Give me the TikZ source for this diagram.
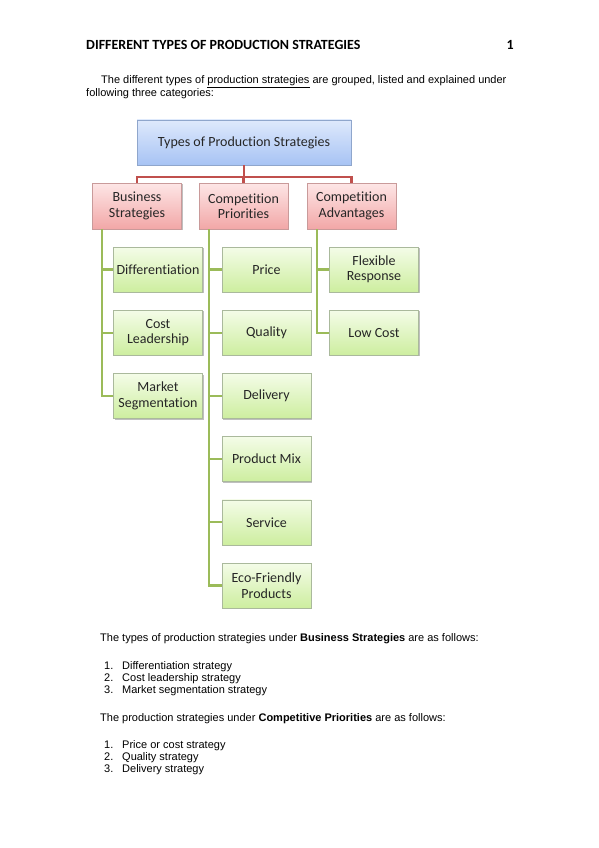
\documentclass[tikz,border=0pt]{standalone}
\usepackage{fontspec}
\setmainfont{Liberation Sans}
\newfontfamily\boxfont[Ligatures=NoCommon]{Carlito}
\usepackage{tikz}
\usetikzlibrary{calc, positioning, shadows}

\definecolor{blueedge}{HTML}{8FA6CC}
\definecolor{bluetop}{HTML}{DEE9FC}
\definecolor{bluebot}{HTML}{A7C3F4}
\definecolor{rededge}{HTML}{C99A9A}
\definecolor{redtop}{HTML}{FDE6E6}
\definecolor{redbot}{HTML}{F2A7A7}
\definecolor{greenedge}{HTML}{AAB99C}
\definecolor{greentop}{HTML}{F4FCE8}
\definecolor{greenbot}{HTML}{CDEE9F}
\definecolor{redlink}{HTML}{C0504D}
\definecolor{greenlink}{HTML}{9BBB59}

\tikzset{
  box/.style={line width=0.6pt, minimum height=45pt, inner xsep=1pt, align=center,
    text=black!85, font=\boxfont\fontsize{14}{15.5}\selectfont,
    drop shadow={shadow xshift=1.2pt, shadow yshift=-1.2pt, opacity=0.25, fill=black}},
  topbox/.style={box, draw=blueedge, top color=bluetop, bottom color=bluebot, minimum width=214pt},
  catbox/.style={box, draw=rededge, top color=redtop, bottom color=redbot, minimum width=89pt, minimum height=46pt},
  leafbox/.style={box, draw=greenedge, top color=greentop, bottom color=greenbot, minimum width=89pt},
  redline/.style={redlink, line width=2.2pt},
  greenline/.style={greenlink, line width=2.2pt},
  body/.style={anchor=base west, inner sep=0pt, font=\fontsize{11}{13}\selectfont},
  headtext/.style={inner sep=0pt, font=\boxfont\bfseries\fontsize{14}{16}\selectfont}
}

\begin{document}
\begin{tikzpicture}[x=1pt, y=-1pt]
    \useasboundingbox (0,0) rectangle (599,848);

    % Page heading
    \node[headtext, anchor=base west] (heading) at (86,49.5) {DIFFERENT TYPES OF PRODUCTION STRATEGIES};
    \node[headtext, anchor=base east] (pageno) at (514,49.5) {1};

    % Introduction
    \node[body] (intro1) at (101,84) {The different types of \underline{production strategies} are grouped, listed and explained under};
    \node[body] (intro2) at (86,96.5) {following three categories:};

    % Chart: top level
    \node[topbox] (types) at (244,142.5) {Types of Production Strategies};

    % Chart: categories
    \node[catbox] (business) at (137,206) {Business\\Strategies};
    \node[catbox] (priorities) at (243.5,206) {Competition\\Priorities};
    \node[catbox] (advantages) at (351.5,206) {Competition\\Advantages};

    \coordinate (hub) at (244,177);
    \draw[redline] (types.south) -- (hub) -| (business.north);
    \draw[redline] (hub) -| (priorities.north);
    \draw[redline] (hub) -| (advantages.north);

    % Chart: strategies under each category
    \node[leafbox] (diff) at (158,269.5) {Differentiation};
    \node[leafbox] (cost) at (158,332.7) {Cost\\Leadership};
    \node[leafbox] (market) at (158,395.9) {Market\\Segmentation};

    \node[leafbox] (price) at (266.5,269.5) {Price};
    \node[leafbox] (quality) at (266.5,332.7) {Quality};
    \node[leafbox] (delivery) at (266.5,395.9) {Delivery};
    \node[leafbox] (mix) at (266.5,459.1) {Product Mix};
    \node[leafbox] (service) at (266.5,522.3) {Service};
    \node[leafbox] (eco) at (266.5,585.5) {Eco-Friendly\\Products};

    \node[leafbox] (flexible) at (374,269.5) {Flexible\\Response};
    \node[leafbox] (lowcost) at (374,332.7) {Low Cost};

    \coordinate (btrunk) at ($(business.south west)+(10,0)$);
    \coordinate (ptrunk) at ($(priorities.south west)+(10,0)$);
    \coordinate (atrunk) at ($(advantages.south west)+(10,0)$);
    \foreach \leaf in {diff, cost, market}
        \draw[greenline] (btrunk) |- (\leaf.west);
    \foreach \leaf in {price, quality, delivery, mix, service, eco}
        \draw[greenline] (ptrunk) |- (\leaf.west);
    \foreach \leaf in {flexible, lowcost}
        \draw[greenline] (atrunk) |- (\leaf.west);

    % Business strategies list
    \node[body] (busintro) at (100,641.5) {The types of production strategies under \textbf{Business Strategies} are as follows:};
    \node[body] (bnum1) at (104,669) {1.};
    \node[body] (bitem1) at (122,669) {Differentiation strategy};
    \node[body] (bnum2) at (104,681) {2.};
    \node[body] (bitem2) at (122,681) {Cost leadership strategy};
    \node[body] (bnum3) at (104,693) {3.};
    \node[body] (bitem3) at (122,693) {Market segmentation strategy};

    % Competitive priorities list
    \node[body] (priintro) at (100,721) {The production strategies under \textbf{Competitive Priorities} are as follows:};
    \node[body] (pnum1) at (104,748) {1.};
    \node[body] (pitem1) at (122,748) {Price or cost strategy};
    \node[body] (pnum2) at (104,760) {2.};
    \node[body] (pitem2) at (122,760) {Quality strategy};
    \node[body] (pnum3) at (104,772) {3.};
    \node[body] (pitem3) at (122,772) {Delivery strategy};
\end{tikzpicture}
\end{document}
